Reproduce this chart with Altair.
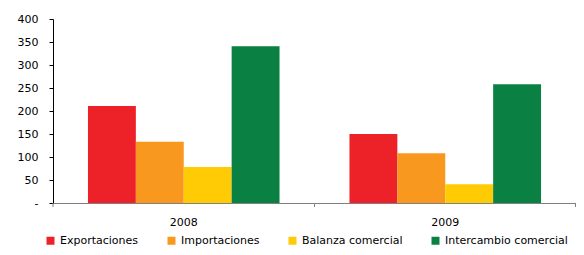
import altair as alt
import pandas as pd

years = ["2008", "2009"]
series = ["Exportaciones", "Importaciones", "Balanza comercial", "Intercambio comercial"]
values_2008 = [211, 133, 78, 341]
values_2009 = [150, 108, 41, 258]
colors = ["#ED2228", "#F8981F", "#FFCB05", "#0A8142"]
y_ticks = [0, 50, 100, 150, 200, 250, 300, 350, 400]

rows = []
for yr, vals in zip(years, [values_2008, values_2009]):
    for s, v in zip(series, vals):
        rows.append({"year": yr, "series": s, "value": v})
df = pd.DataFrame(rows)
ticks_df = pd.DataFrame({"year": years})

FONT = "DejaVu Sans"
W, H = 523, 184

bars = alt.Chart(df).mark_bar().encode(
    x=alt.X("year:N", sort=years,
            scale=alt.Scale(paddingInner=0, paddingOuter=0),
            axis=alt.Axis(title=None, labelAngle=0, ticks=False, labelPadding=13,
                          domainColor="#808080", labelFont=FONT, labelFontSize=11,
                          labelColor="#000000")),
    xOffset=alt.XOffset("series:N", sort=series,
                        scale=alt.Scale(paddingInner=0, paddingOuter=0.73)),
    y=alt.Y("value:Q", scale=alt.Scale(domain=[0, 400], nice=False),
            axis=alt.Axis(title=None, values=y_ticks, grid=False, tickSize=4,
                          labelPadding=11, domainColor="#000000", tickColor="#000000",
                          labelFont=FONT, labelFontSize=11, labelColor="#000000",
                          labelExpr="datum.value == 0 ? '-' : datum.label")),
    color=alt.Color("series:N", sort=series,
                    scale=alt.Scale(domain=series, range=colors),
                    legend=alt.Legend(title=None, orient="none", legendX=-8, legendY=216,
                                      direction="horizontal", symbolType="square",
                                      symbolSize=64, symbolStrokeWidth=0, labelOffset=4,
                                      columnPadding=27, labelFont=FONT, labelFontSize=11,
                                      labelColor="#000000", padding=0)),
)

tick_rules = alt.Chart(ticks_df).mark_rule(color="#808080").encode(
    x=alt.X("year:N", sort=years, bandPosition=0),
    y=alt.value(H),
    y2=alt.value(H + 4),
)
last_tick = alt.Chart(ticks_df).mark_rule(color="#808080").encode(
    x=alt.value(W - 0.5),
    y=alt.value(H),
    y2=alt.value(H + 4),
)

chart = alt.layer(bars, tick_rules, last_tick).properties(
    width=W, height=H,
    autosize=alt.AutoSizeParams(type="none"),
    padding={"left": 45, "top": 11, "right": 0, "bottom": 44},
).configure_view(stroke=None)

chart.save("out.html", embed_options={"renderer": "svg", "actions": False})
